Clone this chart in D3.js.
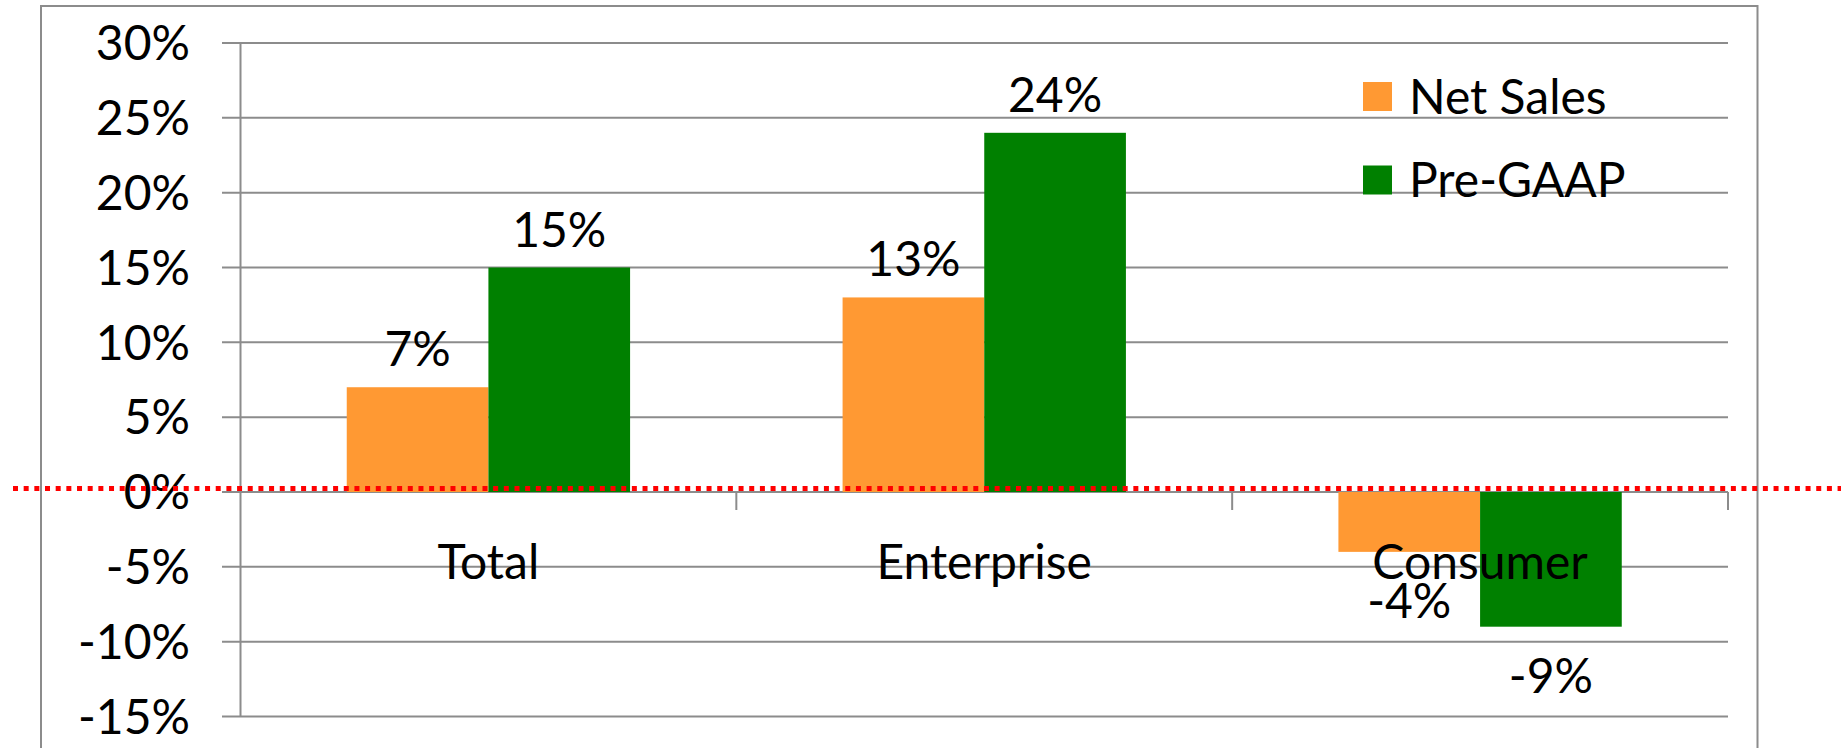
<!DOCTYPE html>
<html>
<head>
<meta charset="utf-8">
<script src="https://cdn.jsdelivr.net/npm/d3@7"></script>
<style>
  html, body { margin: 0; padding: 0; background: #ffffff; }
  svg { display: block; }
  text { font-family: Lato, "Open Sans", sans-serif; fill: #000; }
</style>
</head>
<body>
<svg id="chart" width="1841" height="748"></svg>
<script>
const categories = ["Total", "Enterprise", "Consumer"];
const seriesNames = ["Net Sales", "Pre-GAAP"];
const netSales = [7, 13, -4];
const preGAAP = [15, 24, -9];
const yTicks = [-15, -10, -5, 0, 5, 10, 15, 20, 25, 30];
const colors = ["#FF9933", "#008000"];

const svg = d3.select("#chart");
const W = 1841, H = 748;
const FS = 48;

// outer frame
svg.append("path")
  .attr("d", `M41,${H + 5} V6 H1757.5 V${H + 5}`)
  .attr("fill", "none").attr("stroke", "#8c8c8c").attr("stroke-width", 2);

const x0 = d3.scaleBand().domain(categories).range([240.5, 1728]).paddingInner(0).paddingOuter(0);
const x1 = d3.scaleBand().domain(seriesNames).range([0, x0.bandwidth()]).paddingInner(0).paddingOuter(0.75);
const y = d3.scaleLinear().domain([-15, 30]).range([716.5, 43]);

// gridlines + y tick marks
svg.append("g").selectAll("line").data(yTicks).join("line")
  .attr("x1", 222).attr("x2", 1728)
  .attr("y1", d => y(d)).attr("y2", d => y(d))
  .attr("stroke", "#8c8c8c").attr("stroke-width", 2);

// y axis line
svg.append("line").attr("x1", 240.5).attr("x2", 240.5).attr("y1", y(30)).attr("y2", y(-15))
  .attr("stroke", "#8c8c8c").attr("stroke-width", 2);

// y labels
svg.append("g").selectAll("text").data(yTicks).join("text")
  .attr("x", 190).attr("y", d => y(d)).attr("dy", "0.36em")
  .attr("text-anchor", "end").attr("font-size", FS)
  .text(d => d + "%");

// bars
const data = categories.map((c, i) => ({ cat: c, vals: [netSales[i], preGAAP[i]] }));
const groups = svg.append("g").selectAll("g").data(data).join("g")
  .attr("transform", d => `translate(${x0(d.cat)},0)`);
groups.selectAll("rect").data(d => d.vals.map((v, j) => ({ v, s: seriesNames[j], j })))
  .join("rect")
  .attr("x", d => x1(d.s)).attr("width", x1.bandwidth())
  .attr("y", d => Math.min(y(d.v), y(0)))
  .attr("height", d => Math.abs(y(d.v) - y(0)))
  .attr("fill", d => colors[d.j]);

// value labels
groups.selectAll("text.val").data(d => d.vals.map((v, j) => ({ v, s: seriesNames[j], j })))
  .join("text").attr("class", "val")
  .attr("x", d => x1(d.s) + x1.bandwidth() / 2)
  .attr("y", d => d.v >= 0 ? y(d.v) - 21 : y(d.v) + 66)
  .attr("text-anchor", "middle").attr("font-size", FS)
  .text(d => d.v + "%");

// category ticks
const tickXs = categories.map(c => x0(c) + x0.bandwidth());
svg.append("g").selectAll("line").data(tickXs).join("line")
  .attr("x1", d => d).attr("x2", d => d)
  .attr("y1", y(0)).attr("y2", y(0) + 18)
  .attr("stroke", "#8c8c8c").attr("stroke-width", 2);

// category labels
svg.append("g").selectAll("text").data(categories).join("text")
  .attr("x", d => x0(d) + x0.bandwidth() / 2).attr("y", 579)
  .attr("text-anchor", "middle").attr("font-size", FS)
  .text(d => d);

// red dotted zero reference line
svg.append("line").attr("x1", 13).attr("x2", W).attr("y1", y(0) - 3.5).attr("y2", y(0) - 3.5)
  .attr("stroke", "#FF0000").attr("stroke-width", 5).attr("stroke-dasharray", "5,5.67");

// legend
const legend = svg.append("g").selectAll("g").data(seriesNames).join("g")
  .attr("transform", (d, i) => `translate(1363,${82 + i * 83.5})`);
legend.append("rect").attr("width", 29).attr("height", 29).attr("fill", (d, i) => colors[i]);
legend.append("text").attr("x", 46).attr("y", 14.5).attr("dy", "0.36em")
  .attr("font-size", FS).text(d => d);
</script>
</body>
</html>
